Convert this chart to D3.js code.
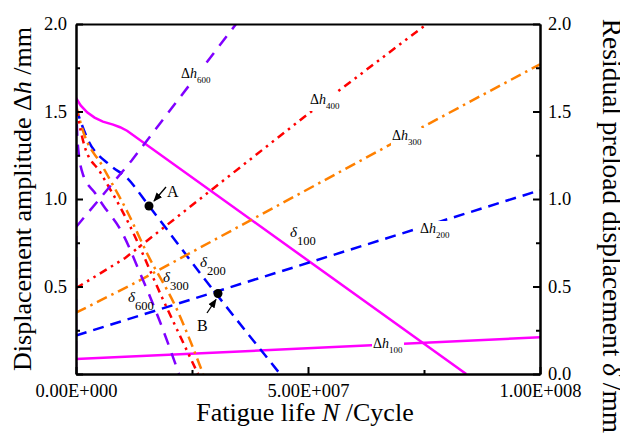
<!DOCTYPE html>
<html>
<head>
<meta charset="utf-8">
<script src="https://cdn.jsdelivr.net/npm/d3@7"></script>
<style>
body { margin: 0; background: #fff; }
svg { font-family: "Liberation Serif", "Times New Roman", serif; }
</style>
</head>
<body>
<svg width="620" height="435"></svg>
<script>
// fatigue life N (cycles) vs displacement (mm)
const dh100 = [[0, 0.085], [1e8, 0.21]]
const dh200 = [[0, 0.22], [1e8, 1.05]]
const dh300 = [[0, 0.35], [1.19e7, 0.509], [7.63e7, 1.434], [1e8, 1.77]]
const dh400 = [[0, 0.49], [1.06e7, 0.663], [2.56e7, 0.977], [4.89e7, 1.463], [7.56e7, 2.0]]
const dh600 = [[0, 0.0], [0.02e6, 0.84], [1.2e7, 1.22], [3.45e7, 2.0]]

const d100 = [[0, 1.577], [0.1e7, 1.535], [0.24e7, 1.495], [0.4e7, 1.465], [0.58e7, 1.442], [0.8e7, 1.425], [0.95e7, 1.41], [1.1e7, 1.39], [8.41e7, 0]]
const d200 = [[0, 1.52], [0.26e7, 1.337], [0.73e7, 1.194], [1.1e7, 1.12], [1.573e7, 0.96], [2.74e7, 0.554], [4.4e7, 0]]
const d300 = [[0, 1.537], [0.13e7, 1.406], [0.58e7, 1.183], [1.12e7, 0.92], [1.53e7, 0.69], [2.18e7, 0.366], [2.74e7, 0]]
const d400 = [[0, 1.52], [0.19e7, 1.297], [0.52e7, 1.154], [1.12e7, 0.869], [1.85e7, 0.44], [2.63e7, 0]]
const d600 = [[0, 1.55], [0.04e7, 1.31], [0.15e7, 1.14], [0.41e7, 1.034], [0.58e7, 0.966], [0.99e7, 0.81], [1.38e7, 0.577], [1.77e7, 0.326], [2.22e7, 0]]

const pointA = [1.573e7, 0.96]
const pointB = [3.06e7, 0.46]

const xTicks = [0, 5e7, 1e8]
const xMinor = [2.5e7, 7.5e7]
const yTicksLeft = [0, 0.5, 1.0, 1.5, 2.0]
const yTicksRight = [0, 0.5, 1.0, 1.5, 2.0]
const yMinor = [0.25, 0.75, 1.25, 1.75]

const svg = d3.select('svg')
const margin = { left: 76, right: 80, top: 24, bottom: 61 }
const width = +svg.attr('width')
const height = +svg.attr('height')

const x = d3.scaleLinear().domain([0, 1e8]).range([margin.left, width - margin.right])
const y = d3.scaleLinear().domain([0, 2]).range([height - margin.bottom, margin.top])

const sci = d => {
	const [m, e] = d.toExponential(2).split('e')
	return m + 'E' + (e[0] === '-' ? '-' : '+') + String(Math.abs(+e)).padStart(3, '0')
}

svg.append('defs').append('clipPath').attr('id', 'plot')
	.append('rect')
	.attr('x', x(0)).attr('y', y(2))
	.attr('width', x(1e8) - x(0)).attr('height', y(0) - y(2))

const marker = svg.select('defs').append('marker')
	.attr('id', 'arrow')
	.attr('viewBox', '0 0 10 10')
	.attr('refX', 9).attr('refY', 5)
	.attr('markerWidth', 7).attr('markerHeight', 7)
	.attr('orient', 'auto')
marker.append('path').attr('d', 'M0,1 L10,5 L0,9 Z').attr('fill', '#000')

const series = [
	{ data: dh100, color: '#ff00ff', dash: null },
	{ data: d100, color: '#ff00ff', dash: null },
	{ data: dh200, color: '#0000ff', dash: '11,7' },
	{ data: d200, color: '#0000ff', dash: '11,7', curve: true },
	{ data: dh300, color: '#ff8000', dash: '11,5,2.5,5' },
	{ data: d300, color: '#ff8000', dash: '11,5,2.5,5', curve: true },
	{ data: dh400, color: '#ff0000', dash: '8,5,2.5,5,2.5,5' },
	{ data: d400, color: '#ff0000', dash: '8,5,2.5,5,2.5,5', curve: true },
	{ data: dh600, color: '#8000ff', dash: '12,9' },
	{ data: d600, color: '#8000ff', dash: '12,9', curve: true },
]

const lines = svg.append('g').attr('clip-path', 'url(#plot)')
lines.selectAll('path')
	.data(series)
	.enter()
	.append('path')
	.attr('d', d => d3.line().x(p => x(p[0])).y(p => y(p[1])).curve(d.curve ? d3.curveMonotoneX : d3.curveLinear)(d.data))
	.attr('fill', 'none')
	.attr('stroke', d => d.color)
	.attr('stroke-width', 2.5)
	.attr('stroke-dasharray', d => d.dash)

// curve labels
const dhLabels = [
	{ n: '600', at: [181, 78] },
	{ n: '400', at: [310, 104] },
	{ n: '300', at: [392, 140] },
	{ n: '200', at: [420, 233] },
	{ n: '100', at: [373, 348] },
]
const dLabels = [
	{ n: '100', at: [290, 237] },
	{ n: '200', at: [200, 267] },
	{ n: '300', at: [163, 282] },
	{ n: '600', at: [128, 302] },
]

const labels = svg.append('g')
dhLabels.forEach(l => {
	const g = labels.append('g')
	const t = g.append('text')
		.attr('x', l.at[0]).attr('y', l.at[1])
		.attr('font-size', 14)
	t.append('tspan').text('Δ')
	t.append('tspan').attr('font-style', 'italic').text('h')
	t.append('tspan').attr('font-size', 9).attr('dy', 5).text(l.n)
	const b = t.node().getBBox()
	g.insert('rect', 'text')
		.attr('x', b.x - 1).attr('y', b.y)
		.attr('width', b.width + 2).attr('height', b.height)
		.attr('fill', '#fff')
})
dLabels.forEach(l => {
	const t = labels.append('text')
		.attr('x', l.at[0]).attr('y', l.at[1])
		.attr('font-size', 15)
	t.append('tspan').attr('font-style', 'italic').text('δ')
	t.append('tspan').attr('font-size', 12.5).attr('dy', 8).text(l.n)
})

// marked points
svg.selectAll('.pt')
	.data([pointA, pointB])
	.enter()
	.append('circle')
	.attr('class', 'pt')
	.attr('cx', d => x(d[0])).attr('cy', d => y(d[1]))
	.attr('r', 4.5)
	.attr('fill', '#000')

svg.append('line')
	.attr('x1', 166).attr('y1', 187).attr('x2', x(pointA[0]) + 5).attr('y2', y(pointA[1]) - 5)
	.attr('stroke', '#000').attr('stroke-width', 1.3).attr('marker-end', 'url(#arrow)')
svg.append('text').attr('x', 167).attr('y', 197).attr('font-size', 16).text('A')

svg.append('line')
	.attr('x1', 207).attr('y1', 313).attr('x2', x(pointB[0]) - 2).attr('y2', y(pointB[1]) + 6)
	.attr('stroke', '#000').attr('stroke-width', 1.3).attr('marker-end', 'url(#arrow)')
svg.append('text').attr('x', 197).attr('y', 331).attr('font-size', 16).text('B')

// axes
const styleAxis = g => {
	g.selectAll('.domain').attr('stroke', '#000').attr('stroke-width', 2)
	g.selectAll('.tick line').attr('stroke', '#000').attr('stroke-width', 2)
	g.selectAll('text').attr('font-size', 18.5).attr('font-family', '"Liberation Serif", serif').attr('fill', '#000')
}

svg.append('g')
	.attr('transform', `translate(0,${y(0)})`)
	.call(d3.axisBottom(x).tickValues(xTicks).tickSize(-7).tickSizeOuter(0).tickPadding(10).tickFormat(sci))
	.call(styleAxis)
svg.append('g')
	.attr('transform', `translate(0,${y(0)})`)
	.call(d3.axisBottom(x).tickValues(xMinor).tickSize(-4).tickSizeOuter(0).tickFormat(''))
	.call(styleAxis)
svg.append('g')
	.attr('transform', `translate(0,${y(2)})`)
	.call(d3.axisTop(x).tickValues([]).tickSizeOuter(0))
	.call(styleAxis)

svg.append('g')
	.attr('transform', `translate(${x(0)},0)`)
	.call(d3.axisLeft(y).tickValues(yTicksLeft).tickSize(-7).tickSizeOuter(0).tickPadding(9)
		.tickFormat(d => d === 0 ? '' : d3.format('.1f')(d)))
	.call(styleAxis)
svg.append('g')
	.attr('transform', `translate(${x(0)},0)`)
	.call(d3.axisLeft(y).tickValues(yMinor).tickSize(-4).tickSizeOuter(0).tickFormat(''))
	.call(styleAxis)

svg.append('g')
	.attr('transform', `translate(${x(1e8)},0)`)
	.call(d3.axisRight(y).tickValues(yTicksRight).tickSize(-7).tickSizeOuter(0).tickPadding(8).tickFormat(d3.format('.1f')))
	.call(styleAxis)
svg.append('g')
	.attr('transform', `translate(${x(1e8)},0)`)
	.call(d3.axisRight(y).tickValues(yMinor).tickSize(-4).tickSizeOuter(0).tickFormat(''))
	.call(styleAxis)

// axis titles
const xt = svg.append('text')
	.attr('x', (x(0) + x(1e8)) / 2 - 3).attr('y', 421)
	.attr('text-anchor', 'middle').attr('font-size', 26)
xt.append('tspan').text('Fatigue life ')
xt.append('tspan').attr('font-style', 'italic').text('N')
xt.append('tspan').text(' /Cycle')

const yl = svg.append('text')
	.attr('transform', `translate(31,${(y(0) + y(2)) / 2}) rotate(-90)`)
	.attr('text-anchor', 'middle').attr('font-size', 26)
yl.append('tspan').text('Displacement amplitude Δ')
yl.append('tspan').attr('font-style', 'italic').text('h')
yl.append('tspan').text(' /mm')

const yr = svg.append('text')
	.attr('transform', `translate(603,226) rotate(90)`)
	.attr('text-anchor', 'middle').attr('font-size', 27.5)
yr.append('tspan').text('Residual preload displacement ')
yr.append('tspan').attr('font-style', 'italic').text('δ')
yr.append('tspan').text(' /mm')
</script>
</body>
</html>
